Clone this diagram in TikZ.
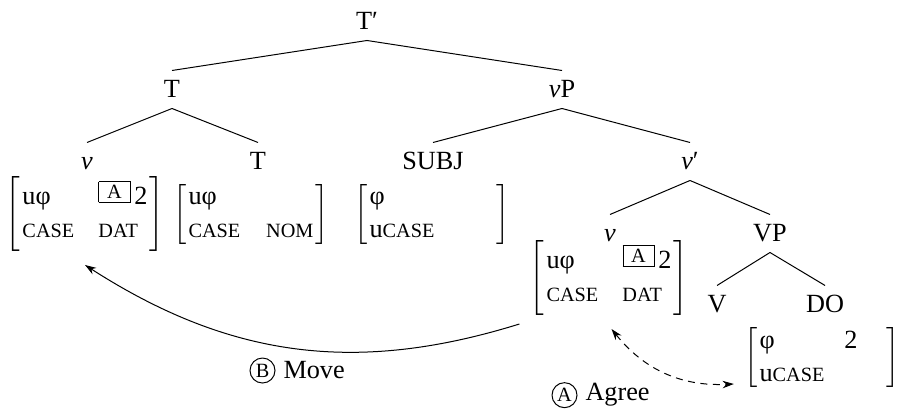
\documentclass[tikz,border=0pt]{standalone}
\usepackage{fontspec}
\setmainfont{Liberation Serif}
\usetikzlibrary{arrows.meta,positioning}

% small capitals for feature values
\newcommand{\smc}[1]{{\fontsize{8.1}{9.7}\selectfont #1}}
% boxed index on a valued feature
\newcommand{\boxA}{\raisebox{2.5pt}{\setlength{\fboxsep}{1.3pt}\setlength{\fboxrule}{0.4pt}\fbox{\makebox[9.4pt]{\smc{A}}}}}
% two-row attribute-value matrix
\newcommand{\featmat}[4]{$\left[\hspace{0.8pt}\begin{tabular}{@{}p{30.4pt}@{}p{19.6pt}@{}}#1&#2\\#3&#4\end{tabular}\hspace{0.8pt}\right]$}

\begin{document}
\begin{tikzpicture}[x=0.4pt,y=-0.4pt,
  font=\fontsize{10.5}{13.2}\selectfont,
  cat/.style={anchor=base, text height=6.8pt, text depth=0pt, inner sep=4pt},
  avm/.style={inner sep=0pt},
  oplab/.style={anchor=base west, inner sep=0pt},
  circ/.style={draw, circle, inner sep=0.6pt, minimum size=10pt, font=\fontsize{8.1}{9.7}\selectfont}]
\useasboundingbox (0,0) rectangle (898,410);

% tree labels
\node[cat] (tbar)  at (367,30)  {T′};
\node[cat] (tnode) at (172,98)  {T};
\node[cat] (vp)    at (562,98)  {\textit{v}P};
\node[cat] (vhead) at (87,170)  {\textit{v}};
\node[cat] (thead) at (258,170) {T};
\node[cat] (subj)  at (433,170) {SUBJ};
\node[cat] (vbar)  at (690,170) {\textit{v}′};
\node[cat] (vlow)  at (610,242) {\textit{v}};
\node[cat] (vpn)   at (770,242) {VP};
\node[cat] (verb)  at (717,313) {V};
\node[cat] (dobj)  at (825,313) {DO};

% branches
\draw (tbar.south) -- (tnode.north);
\draw (tbar.south) -- (vp.north);
\draw (tnode.south) -- (vhead.north);
\draw (tnode.south) -- (thead.north);
\draw (vp.south) -- (subj.north);
\draw (vp.south) -- (vbar.north);
\draw (vbar.south) -- (vlow.north);
\draw (vbar.south) -- (vpn.north);
\draw (vpn.south) -- (verb.north);
\draw (vpn.south) -- (dobj.north);

% feature matrices
\node[avm] (vmat1)   at (85,214.5)  {\featmat{uφ}{\boxA\hspace{1.5pt}2}{\smc{CASE}}{\smc{DAT}}};
\node[avm] (tmat)    at (251,214.5) {\featmat{uφ}{}{\smc{CASE}}{\hfill\smc{NOM}}};
\node[avm] (subjmat) at (432,214.5) {\featmat{φ}{}{u\smc{CASE}}{}};
\node[avm] (vmat2)   at (609,278.5) {\featmat{uφ}{\boxA\hspace{1.5pt}2}{\smc{CASE}}{\smc{DAT}}};
\node[avm] (domat)   at (822,358)   {\featmat{φ}{\hspace{3.6pt}2}{u\smc{CASE}}{}};

% operation labels
\node[oplab] (move) at (283,379) {Move};
\node[circ, left=3pt of move] (mvB) {B};
\node[oplab] (agree) at (585,401) {Agree};
\node[circ, left=3pt of agree] (agA) {A};

% arrows
\coordinate (mvfrom) at ([shift={(-4pt,-3pt)}]vmat2.south west);
\coordinate (mvto) at ([yshift=-5pt]vmat1.south);
\draw[-{Stealth[length=4.5pt,width=3pt]}] (mvfrom) to[bend left=25] (mvto);

\coordinate (agfrom) at ([shift={(1pt,-5pt)}]vmat2.south);
\coordinate (agto) at ([shift={(-4pt,3pt)}]domat.south west);
\draw[{Stealth[length=4.5pt,width=3pt]}-{Stealth[length=4.5pt,width=3pt]}, dash pattern=on 2.8pt off 2.2pt]
  (agfrom) to[bend right=27] (agto);
\end{tikzpicture}
\end{document}
